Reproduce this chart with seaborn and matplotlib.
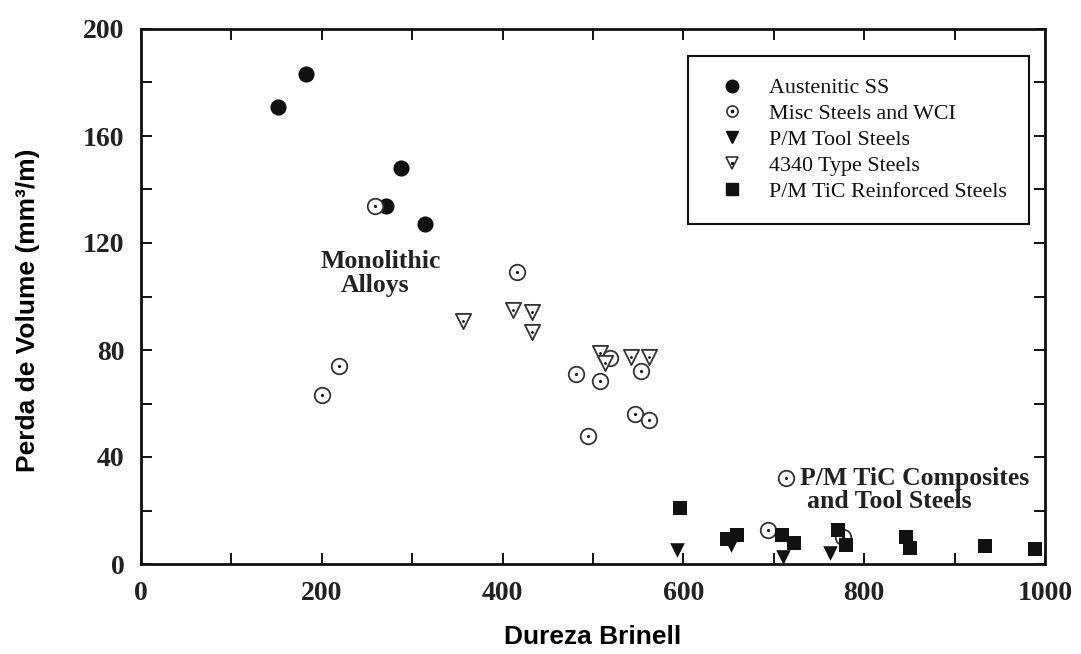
import numpy as np
import pandas as pd
import matplotlib
matplotlib.use("Agg")
import matplotlib.pyplot as plt
from matplotlib.lines import Line2D
from matplotlib.ticker import MultipleLocator
import seaborn as sns

# ---- data ----
aust_x = [152, 183, 271, 288, 314]
aust_y = [171, 183, 134, 148, 127]

misc_x = [259, 200, 219, 416, 481, 495, 508, 519, 546, 553, 562, 694, 714, 777]
misc_y = [134, 63, 74, 109, 71, 48, 68.5, 77, 56, 72, 54, 12.7, 32, 10]

t4340_x = [356, 411, 433, 432, 508, 513, 542, 562]
t4340_y = [91, 95, 94.3, 86.9, 78.8, 75, 77.5, 77.5]

tool_x = [593, 653, 710, 762]
tool_y = [5.2, 7.0, 2.7, 4.0]

tic_x = [596, 648, 659, 709, 722, 771, 780, 846, 851, 934, 989]
tic_y = [20.8, 9.2, 10.8, 10.8, 7.7, 12.7, 7.1, 10.2, 5.9, 6.7, 5.5]

series_names = ["Austenitic SS", "Misc Steels and WCI", "P/M Tool Steels",
                "4340 Type Steels", "P/M TiC Reinforced Steels"]

x_ticks = [0, 200, 400, 600, 800, 1000]
y_ticks = [0, 40, 80, 120, 160, 200]

# ---- style ----
sns.set_style("ticks")
plt.rcParams["font.family"] = ["Liberation Serif", "DejaVu Serif"]

fig = plt.figure(figsize=(10.81, 6.54), dpi=100)
ax = fig.add_axes([141 / 1081, 1 - 564 / 654, 904 / 1081, 535 / 654])

edge = "#333333"
ink = "#111111"

def df(xs, ys):
    return pd.DataFrame({"x": xs, "y": ys})

sns.scatterplot(data=df(aust_x, aust_y), x="x", y="y", marker="o", s=135,
                color=ink, edgecolor=ink, linewidth=0, ax=ax, legend=False, zorder=3)
sns.scatterplot(data=df(misc_x, misc_y), x="x", y="y", marker="o", s=125,
                facecolor="white", edgecolor=edge, linewidth=1.3, ax=ax, legend=False, zorder=4)
sns.scatterplot(data=df(misc_x, misc_y), x="x", y="y", marker="o", s=5,
                color=ink, edgecolor=ink, linewidth=0, ax=ax, legend=False, zorder=4)
sns.scatterplot(data=df(t4340_x, t4340_y), x="x", y="y", marker="v", s=120,
                facecolor="white", edgecolor=edge, linewidth=1.3, ax=ax, legend=False, zorder=5)
sns.scatterplot(data=df(t4340_x, t4340_y), x="x", y="y", marker="o", s=4,
                color=ink, edgecolor=ink, linewidth=0, ax=ax, legend=False, zorder=5)
sns.scatterplot(data=df(tool_x, tool_y), x="x", y="y", marker="v", s=110,
                color=ink, edgecolor=ink, linewidth=0, ax=ax, legend=False, zorder=6)
sns.scatterplot(data=df(tic_x, tic_y), x="x", y="y", marker="s", s=100,
                color=ink, edgecolor=ink, linewidth=0, ax=ax, legend=False, zorder=7)

ax.set_xlim(0, 1000)
ax.set_ylim(0, 200)
ax.set_xticks(x_ticks)
ax.set_yticks(y_ticks)
ax.xaxis.set_minor_locator(MultipleLocator(100))
ax.yaxis.set_minor_locator(MultipleLocator(20))
ax.tick_params(which="both", direction="in", top=True, right=True,
               length=8, width=1.4, color="#111111")
ax.tick_params(which="major", labelsize=20, pad=12, labelcolor="#222222")
for lab in ax.get_xticklabels() + ax.get_yticklabels():
    lab.set_fontweight("bold")
for sp in ax.spines.values():
    sp.set_linewidth(2.0)
    sp.set_color("#111111")

ax.set_xlabel("Dureza Brinell", fontsize=19, fontweight="bold",
              family=["Liberation Sans", "DejaVu Sans"], color="black")
ax.set_ylabel("Perda de Volume (mm³/m)", fontsize=19, fontweight="bold",
              family=["Liberation Sans", "DejaVu Sans"], color="black")
ax.xaxis.set_label_coords(0.5, -0.114)
ax.yaxis.set_label_coords(-0.112, 0.475)

# annotations
ax.text(265, 113, "Monolithic", fontsize=18.5, fontweight="bold",
        ha="center", va="center", color="#222222")
ax.text(259, 104, "Alloys", fontsize=18.5, fontweight="bold",
        ha="center", va="center", color="#222222")
ax.text(729, 32, "P/M TiC Composites", fontsize=18.5, fontweight="bold",
        ha="left", va="center", color="#222222")
ax.text(737, 23.5, "and Tool Steels", fontsize=18.5, fontweight="bold",
        ha="left", va="center", color="#222222")

# legend
h_aust = Line2D([], [], linestyle="none", marker="o", markersize=9,
                markerfacecolor=ink, markeredgecolor=ink)
h_misc = (Line2D([], [], linestyle="none", marker="o", markersize=8,
                 markerfacecolor="white", markeredgecolor=edge, markeredgewidth=1.2),
          Line2D([], [], linestyle="none", marker="o", markersize=1.6,
                 markerfacecolor=ink, markeredgecolor=ink))
h_tool = Line2D([], [], linestyle="none", marker="v", markersize=9,
                markerfacecolor=ink, markeredgecolor=ink)
h_4340 = (Line2D([], [], linestyle="none", marker="v", markersize=8,
                 markerfacecolor="white", markeredgecolor=edge, markeredgewidth=1.2),
          Line2D([], [], linestyle="none", marker="o", markersize=1.4,
                 markerfacecolor=ink, markeredgecolor=ink))
h_tic = Line2D([], [], linestyle="none", marker="s", markersize=8,
               markerfacecolor=ink, markeredgecolor=ink)

leg = ax.legend([h_aust, h_misc, h_tool, h_4340, h_tic], series_names,
                loc="upper right", bbox_to_anchor=(1029 / 1081, 1 - 56 / 654),
                bbox_transform=fig.transFigure, borderaxespad=0,
                fontsize=15.8, frameon=True, fancybox=False, framealpha=1,
                edgecolor="#111111", handlelength=2.0, handletextpad=0.68,
                borderpad=1.0, labelspacing=0.25)
leg.get_frame().set_linewidth(1.5)
for t in leg.get_texts():
    t.set_color("#111111")

fig.savefig("out.png", dpi=100, facecolor="white")
